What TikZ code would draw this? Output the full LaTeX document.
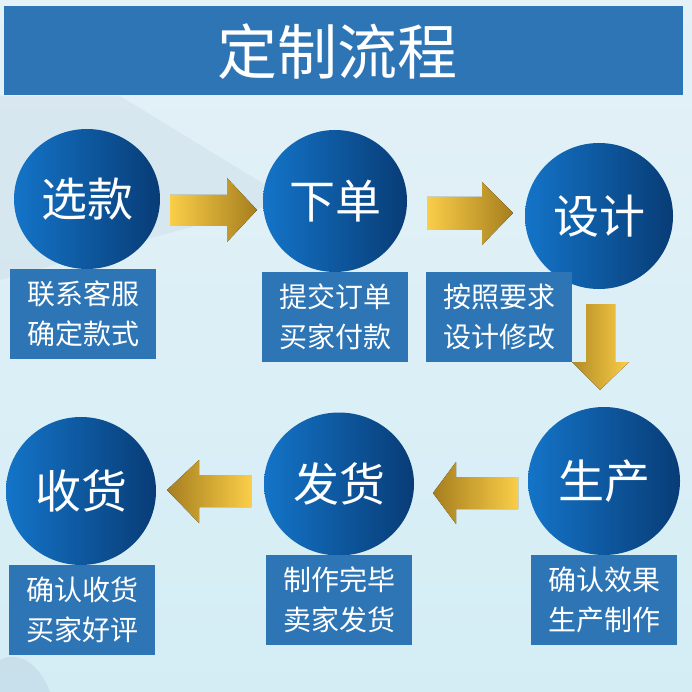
\documentclass[tikz,border=0pt]{standalone}
\usepackage{fontspec}
\newfontfamily\cjk{Noto Sans CJK SC}
\usetikzlibrary{shapes.geometric}
\definecolor{bannerblue}{RGB}{46,117,182}
\definecolor{circL}{RGB}{20,116,200}
\definecolor{circM}{RGB}{14,98,178}
\definecolor{circR}{RGB}{8,60,118}
\definecolor{goldL}{RGB}{250,206,72}
\definecolor{goldD}{RGB}{166,126,30}
\definecolor{bgTop}{RGB}{228,241,247}
\definecolor{bgBot}{RGB}{212,237,245}
\definecolor{mount}{RGB}{150,170,195}
\begin{document}
\begin{tikzpicture}[x=1pt,y=-1pt,
  stepcirc/.style={ellipse, inner sep=0pt, left color=circL, middle color=circM, right color=circR,
    text=white, font=\cjk\fontsize{46}{46}\selectfont},
  stepbox/.style={rectangle, fill=bannerblue, inner sep=0pt, minimum width=146pt,
    minimum height=90pt, text=white, align=center,
    font=\cjk\fontsize{28}{40}\selectfont},
  rgold/.style={left color=goldL, right color=goldD},
  lgold/.style={left color=goldD, right color=goldL},
  dgold/.style={left color=goldD!85!goldL, right color=goldL}]
\useasboundingbox (0,0) rectangle (692,692);
% background
\shade[top color=bgTop, bottom color=bgBot] (0,0) rectangle (692,692);
\fill[mount, opacity=0.12] (0,96) -- (120,96) -- (290,200) -- (180,230) -- (0,280) -- cycle;
\fill[mount, opacity=0.18] (0,660) .. controls (20,650) and (40,665) .. (50,692) -- (0,692) -- cycle;
% title banner
\node (banner) [fill=bannerblue, minimum width=679pt, minimum height=89pt, inner sep=0pt] at (343.5,51) {};
\node (title) [text=white, font=\cjk\fontsize{60}{60}\selectfont] at (337,52) {定制流程};
% circles
\node (c1) [stepcirc, minimum width=146pt, minimum height=140pt] at (87,199) {选款};
\node (c2) [stepcirc, minimum width=144pt, minimum height=142pt] at (335,201) {下单};
\node (c3) [stepcirc, minimum width=148pt, minimum height=146pt] at (599,216) {设计};
\node (c4) [stepcirc, minimum width=152pt, minimum height=148pt] at (604,481) {生产};
\node (c5) [stepcirc, minimum width=150pt, minimum height=143pt] at (339,484) {发货};
\node (c6) [stepcirc, minimum width=150pt, minimum height=148pt] at (81,491) {收货};
% boxes
\node (b1) [stepbox] at (83,314) {联系客服\\确定款式};
\node (b2) [stepbox] at (335,317) {提交订单\\买家付款};
\node (b3) [stepbox] at (499,317) {按照要求\\设计修改};
\node (b4) [stepbox] at (604,600) {确认效果\\生产制作};
\node (b5) [stepbox] at (339,600) {制作完毕\\卖家发货};
\node (b6) [stepbox] at (82,610) {确认收货\\买家好评};
% arrows
\fill[rgold] (170,195) -- (227,195) -- (227,178) -- (257,210) -- (227,242) -- (227,226) -- (170,226) -- cycle;
\fill[rgold] (427,197) -- (482,197) -- (482,182) -- (513,213) -- (482,245) -- (482,230) -- (427,230) -- cycle;
\fill[dgold] (586,304) -- (615,304) -- (615,362) -- (629,362) -- (600,390) -- (572,362) -- (586,362) -- cycle;
\fill[lgold] (518,477) -- (456,477) -- (456,462) -- (433,493) -- (456,524) -- (456,509) -- (518,509) -- cycle;
\fill[lgold] (251,475) -- (199,475) -- (199,460) -- (167,490) -- (199,523) -- (199,507) -- (251,507) -- cycle;
\end{tikzpicture}
\end{document}
